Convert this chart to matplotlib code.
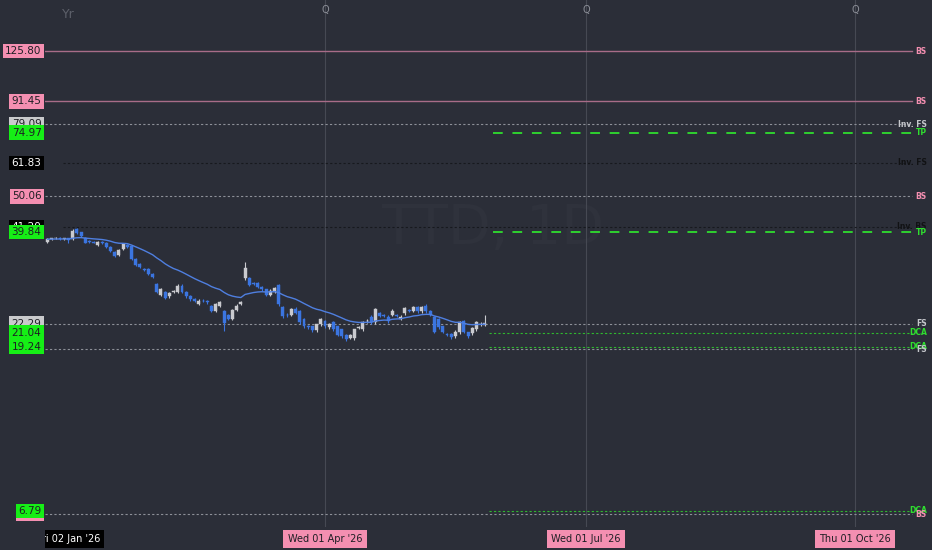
import numpy as np
import pandas as pd
import matplotlib
matplotlib.use("Agg")
import matplotlib.pyplot as plt
import matplotlib.transforms as mtransforms

# daily candles (trading-day index 0 = late Dec '25)
opens = [37.4, 38.2, 38.3, 38.4, 38.2, 38.3, 38.1, 40.6, 39.8, 38.5,
         37.6, 37.5, 36.8, 37.4, 37.2, 36.3, 35.2, 34.5, 35.8, 36.7,
         36.5, 33.6, 32.6, 31.6, 31.6, 30.6, 28.7, 26.8, 27.3, 26.5,
         27.2, 27.3, 28.4, 27.3, 26.6, 26.1, 25.3, 25.8, 25.7, 25.0,
         24.2, 25.0, 24.1, 23.5, 23.0, 24.3, 25.3, 29.8, 29.7, 28.9,
         28.9, 28.2, 27.7, 26.8, 27.2, 28.5, 24.7, 23.6, 23.6, 24.5,
         24.1, 22.9, 21.9, 21.9, 21.4, 22.2, 22.6, 21.8, 22.5, 21.9,
         21.5, 20.8, 20.4, 20.3, 21.7, 21.5, 22.6, 23.3, 22.5, 23.8,
         23.5, 23.3, 23.6, 23.5, 23.0, 23.8, 24.3, 24.2, 24.7, 24.1,
         25.0, 24.2, 23.2, 22.9, 21.9, 20.9, 20.85, 20.6, 21.1, 22.6,
         21.1, 20.95, 21.5, 22.2, 22.1]
closes = [38.1, 38.3, 38.4, 38.2, 38.3, 38.0, 40.1, 39.6, 38.8, 37.3,
          37.4, 37.3, 37.4, 37.2, 36.3, 35.4, 34.3, 35.6, 36.9, 36.3,
          33.6, 32.4, 32.0, 31.4, 30.6, 30.0, 27.3, 27.7, 26.3, 27.1,
          27.4, 28.4, 27.3, 26.5, 26.0, 25.7, 25.8, 25.7, 25.5, 24.2,
          25.2, 25.5, 22.4, 23.0, 24.3, 25.0, 25.5, 31.8, 28.5, 28.7,
          28.2, 27.7, 26.8, 27.5, 27.9, 25.2, 23.35, 23.5, 24.4, 23.9,
          22.5, 21.9, 21.8, 21.4, 22.2, 22.9, 21.9, 22.2, 21.5, 20.8,
          20.6, 20.2, 20.8, 21.5, 21.8, 22.5, 22.7, 22.5, 24.4, 23.4,
          23.4, 22.6, 24.2, 23.4, 23.3, 24.6, 24.2, 24.85, 24.1, 24.85,
          24.1, 23.6, 21.2, 21.8, 21.2, 20.8, 20.45, 21.2, 22.5, 21.2,
          20.6, 21.65, 22.5, 22.3, 22.4]
highs = [38.4, 38.5, 38.6, 38.6, 38.5, 38.5, 40.6, 41.0, 40.0, 38.7,
         37.8, 37.7, 37.6, 37.6, 37.4, 36.5, 35.4, 35.8, 37.1, 36.9,
         36.7, 33.8, 32.8, 31.8, 31.7, 30.8, 28.9, 28.0, 27.5, 27.3,
         27.6, 28.6, 28.6, 27.5, 26.7, 26.2, 26.0, 26.0, 25.9, 25.1,
         25.4, 25.7, 24.3, 23.7, 24.5, 25.2, 25.7, 33.0, 29.9, 29.1,
         29.0, 28.4, 27.8, 27.7, 28.1, 28.7, 24.9, 23.8, 24.6, 24.7,
         24.3, 23.1, 22.1, 22.0, 22.3, 23.1, 22.8, 22.4, 22.7, 22.0,
         21.6, 20.9, 20.9, 21.6, 22.0, 22.7, 22.9, 23.5, 24.6, 24.0,
         23.7, 23.5, 24.4, 23.7, 23.5, 24.8, 24.5, 25.0, 24.9, 25.0,
         25.2, 24.3, 23.4, 23.1, 22.0, 21.0, 21.0, 21.4, 22.7, 22.8,
         21.2, 21.8, 22.7, 22.5, 23.5]
lows = [37.2, 38.0, 38.1, 38.0, 38.0, 37.2, 37.9, 39.4, 38.6, 37.1,
        37.2, 37.1, 36.6, 37.0, 36.1, 35.2, 34.1, 34.3, 35.6, 36.1,
        33.4, 32.2, 31.8, 31.2, 30.4, 29.8, 27.1, 26.6, 26.1, 26.3,
        27.0, 27.1, 27.1, 26.3, 25.8, 25.5, 25.1, 25.5, 25.3, 24.0,
        24.0, 24.8, 21.3, 22.8, 22.8, 24.1, 25.1, 29.5, 28.3, 28.5,
        28.0, 27.5, 26.6, 26.6, 27.0, 25.0, 23.1, 23.3, 23.4, 23.7,
        22.3, 21.7, 21.6, 21.2, 21.2, 22.0, 21.7, 21.6, 21.3, 20.6,
        20.4, 20.0, 20.2, 20.1, 21.5, 21.3, 22.4, 22.3, 22.3, 23.2,
        23.2, 22.4, 23.4, 23.2, 22.8, 23.6, 24.0, 24.0, 23.9, 23.9,
        23.9, 23.4, 21.0, 21.6, 21.0, 20.6, 20.2, 20.4, 20.9, 21.0,
        20.3, 20.8, 21.3, 22.0, 21.9]

# horizontal levels: price, tag, kind
level_prices = [125.80, 91.45, 79.09, 74.97, 61.83, 50.06, 41.20, 39.84,
                22.29, 21.04, 19.24, 18.95, 6.79, 6.65]
level_tags = ['BS', 'BS', 'Inv. FS', 'TP', 'Inv. FS', 'BS', 'Inv. BS', 'TP',
              'FS', 'DCA', 'DCA', 'FS', 'DCA', 'BS']
level_kind = ['bs_solid', 'bs_solid', 'fs', 'tp', 'inv', 'bs_dot', 'inv', 'tp',
              'fs', 'dca', 'dca', 'fs', 'dca', 'bs_dot']

# time axis
date_idx = [5, 66, 128, 192]
date_labels = ["Fri 02 Jan '26", "Wed 01 Apr '26", "Wed 01 Jul '26", "Thu 01 Oct '26"]
quarter_idx = [66, 128, 192]

bg = '#2b2e38'
pink = '#f48fb1'
green = '#16ee16'
up_col = '#c9cacf'
down_col = '#3b75e0'

fig = plt.figure(figsize=(9.32, 5.5), dpi=100, facecolor=bg)
ax = fig.add_axes([45/932, 23/550, 887/932, 527/550])
ax.set_facecolor(bg)
ax.set_yscale('log')
ax.set_ylim(6.13, 174.0)
ax.set_xlim(-0.57, 210.3)
for s in ax.spines.values():
    s.set_visible(False)
ax.set_xticks([])
ax.set_yticks([])
ax.yaxis.set_minor_locator(matplotlib.ticker.NullLocator())

# quarter lines
top_tr = mtransforms.blended_transform_factory(ax.transData, ax.transAxes)
for q in quarter_idx:
    ax.axvline(q, color='#464953', lw=0.8, zorder=1)
    ax.text(q, 0.99, 'Q', transform=top_tr, ha='center', va='top', color='#8c8f98', fontsize=7)
ax.text(date_idx[0], 0.985, 'Yr', transform=top_tr, ha='center', va='top', color='#5d606a', fontsize=9)

# watermark
ax.text(0.505, 0.565, 'TTD, 1D', transform=ax.transAxes, ha='center', va='center',
        fontsize=40, color='#2f323c', zorder=0)

# levels
line_end = (912 - 45) / 887
fut_start = (493 - 45) / 887
styles = {
    'bs_solid': dict(color='#a86c88', ls='-', lw=1.0, xmin=0, xmax=line_end),
    'fs': dict(color='#8d9098', ls=(0, (2, 2)), lw=0.8, xmin=0, xmax=line_end),
    'bs_dot': dict(color='#8d9098', ls=(0, (2, 2)), lw=0.8, xmin=0, xmax=line_end),
    'inv': dict(color='#17191e', ls=(0, (2, 2)), lw=0.8, xmin=0.02, xmax=line_end),
    'tp': dict(color='#2fd12f', ls=(0, (5, 5)), lw=1.4, xmin=fut_start, xmax=line_end),
    'dca': dict(color='#2fb82f', ls=(0, (2, 2)), lw=0.8, xmin=fut_start - 0.005, xmax=line_end),
}
tag_colors = {'BS': pink, 'TP': '#2fe02f', 'DCA': '#2fe02f', 'FS': '#c4c6cb'}
rt = mtransforms.blended_transform_factory(ax.transAxes, ax.transData)
for p, tag, kind in zip(level_prices, level_tags, level_kind):
    ax.axhline(p, zorder=2, **styles[kind])
    if tag.startswith('Inv'):
        tc = '#c4c6cb' if kind == 'fs' else '#111214'
    else:
        tc = tag_colors[tag]
    ax.text(0.994, p, tag, transform=rt, ha='right', va='center', color=tc,
            fontsize=5.5, fontweight='bold', zorder=5)

# candles
idx = np.arange(len(closes))
o = np.array(opens)
c = np.array(closes)
cols = np.where(c >= o, up_col, down_col)
ax.vlines(idx, lows, highs, colors=cols, lw=0.8, zorder=3)
bottom = np.minimum(o, c)
height = np.maximum(np.abs(c - o), bottom * 0.004)
ax.bar(idx, height, bottom=bottom, width=0.7, color=cols, edgecolor=cols, lw=0.3, zorder=4)

# EMA
ema = pd.Series(closes).ewm(span=20, adjust=False).mean()
ax.plot(idx, ema, color='#4f7fe0', lw=1.0, zorder=4)

# left price labels (green ones sit on top)
label_bg = {'bs_solid': pink, 'bs_dot': pink, 'fs': '#c9cacc', 'inv': '#000000',
            'tp': green, 'dca': green}
lt = mtransforms.blended_transform_factory(fig.transFigure, ax.transData)
for p, kind in zip(level_prices, level_kind):
    if p == 18.95:
        continue
    fc = label_bg[kind]
    tcol = 'white' if fc == '#000000' else '#1d1f24'
    z = 7 if fc == green else 6
    ax.text(41.5/932, p, f'{p:.2f}', transform=lt, ha='right', va='center', fontsize=7.5,
            color=tcol, clip_on=False, zorder=z,
            bbox=dict(boxstyle='square,pad=0.22', fc=fc, ec='none'))

# time axis labels
tax = fig.add_axes([45/932, 0, 887/932, 23/550])
tax.set_facecolor(bg)
tax.set_xlim(ax.get_xlim())
tax.set_ylim(0, 1)
tax.axis('off')
for i, (d, lab) in enumerate(zip(date_idx, date_labels)):
    fc = '#000000' if i == 0 else pink
    tc = 'white' if i == 0 else '#1d1f24'
    tax.text(d, 0.48, lab, ha='center', va='center', fontsize=7, color=tc, clip_on=True,
             bbox=dict(boxstyle='square,pad=0.45', fc=fc, ec='none'))

fig.savefig('out.png', dpi=100, facecolor=bg)
